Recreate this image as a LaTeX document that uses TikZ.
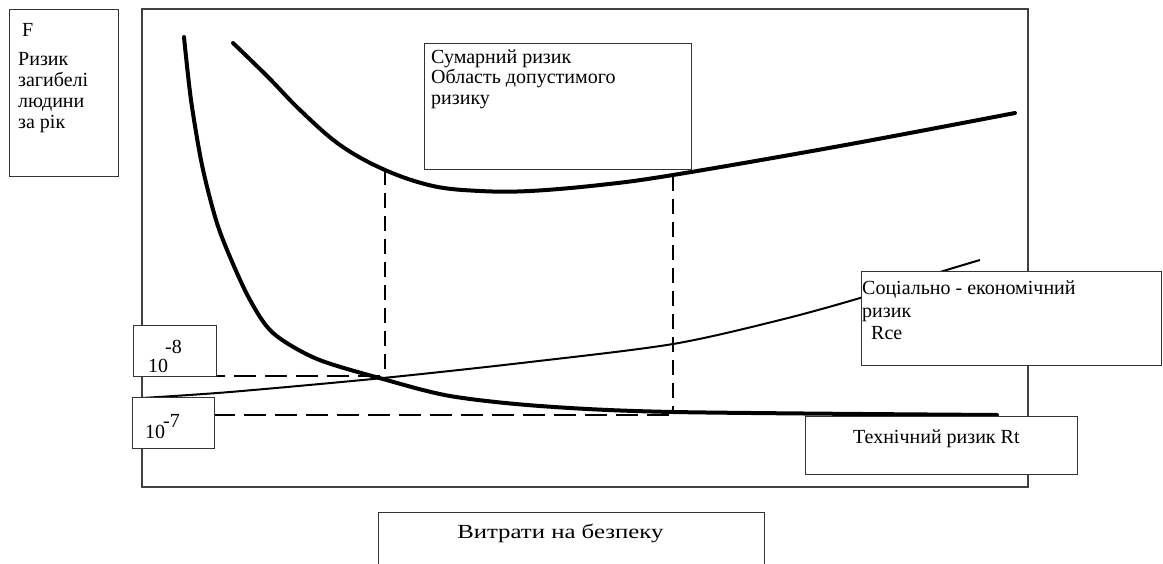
\documentclass[tikz,border=0pt]{standalone}
\usepackage{fontspec}
\setmainfont{Liberation Serif}
\begin{document}
\begin{tikzpicture}[x=1pt,y=-1pt,
  frame/.style={draw=black!75,line width=1.3pt},
  box/.style={draw=black!80,line width=1.2pt,fill=white,rectangle,inner sep=0pt,anchor=north west},
  lbl/.style={anchor=base west,inner sep=0pt,font=\fontsize{20}{23}\selectfont},
  thickc/.style={line width=4pt,line cap=round},
  thinc/.style={line width=2pt},
  hdash/.style={line width=2pt,dash pattern=on 22pt off 9pt},
  vdash/.style={line width=2pt,dash pattern=on 15pt off 8pt}]
\useasboundingbox (0,0) rectangle (1163,564);
% frame
\draw[frame] (142,9) rectangle (1028,487);
% curves
\draw[thickc] plot[smooth,tension=0.5] coordinates {(184,37) (191,100) (202,165) (216,220) (230,257) (250,300) (273,333) (317,359) (383,379) (450,396) (540,406) (673,412) (997,415)};
\draw[thickc] plot[smooth,tension=0.6] coordinates {(233,43) (268,77) (300,110) (340,145) (385,170) (433,186) (480,191) (530,191) (600,185) (673,175) (840,146) (1015,113)};
\draw[thinc] plot[smooth,tension=0.5] coordinates {(142,398) (230,392) (383,378) (530,362) (673,344) (780,320) (860,298) (937,273) (980,260)};
% dashed guides
\coordinate (h8a) at (203,376); \coordinate (h8b) at (383,376);
\coordinate (h7a) at (213,415); \coordinate (h7b) at (673,415);
\coordinate (v1a) at (385,170); \coordinate (v1b) at (385,378);
\coordinate (v2a) at (673,176); \coordinate (v2b) at (673,412);
\draw[hdash] (h8a) -- (h8b);
\draw[hdash] (h7a) -- (h7b);
\draw[vdash] (v1a) -- (v1b);
\draw[vdash] (v2a) -- (v2b);
% boxes
\node[box,minimum width=109pt,minimum height=167pt] (leftbox) at (9,9) {};
\node[box,minimum width=267pt,minimum height=126pt] (sumbox) at (424,43) {};
\node[box,minimum width=83pt,minimum height=51pt] (b8) at (133,325) {};
\node[box,minimum width=82pt,minimum height=51pt] (b7) at (132,397) {};
\node[box,minimum width=300pt,minimum height=94pt] (sebox) at (861,271) {};
\node[box,minimum width=272pt,minimum height=58pt] (rtbox) at (805,416) {};
\node[box,minimum width=386pt,minimum height=70pt] (costbox) at (378,512) {};
% texts
\node[lbl] (tF) at (22,37) {F};
\node[lbl] (t1) at (18,66) {Ризик};
\node[lbl] (t2) at (18,87) {загибелі};
\node[lbl] (t3) at (18,108) {людини};
\node[lbl] (t4) at (18,129) {за рік};
\node[lbl] (s1) at (431,64) {Сумарний ризик};
\node[lbl] (s2) at (431,84) {Область допустимого};
\node[lbl] (s3) at (431,105) {ризику};
\node[lbl] (n8) at (148,372) {10};
\node[lbl] (e8) at (165,353) {-8};
\node[lbl] (n7) at (145,438) {10};
\node[lbl] (e7) at (163,427) {-7};
\node[lbl] (se1) at (862,295) {Соціально - економічний};
\node[lbl] (se2) at (862,318) {ризик};
\node[lbl] (se3) at (871,340) {Rce};
\node[lbl] (rt) at (853,443) {Технічний ризик Rt};
\node[lbl,xscale=1.24] (cost) at (457,538) {Витрати на безпеку};
\end{tikzpicture}
\end{document}
